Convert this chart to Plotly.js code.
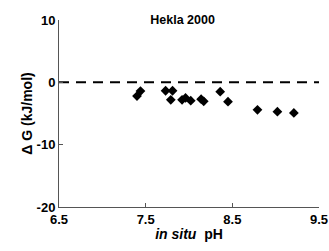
<!DOCTYPE html>
<html><head><meta charset="utf-8">
<script src="https://cdn.plot.ly/plotly-3.0.1.min.js"></script>
<style>html,body{margin:0;padding:0;background:#fff}</style>
</head><body>
<div id="chart" style="width:329px;height:251px"></div>
<script>
const ph = [7.40, 7.44, 7.73, 7.81, 7.79, 7.92, 7.96, 8.02, 8.14, 8.17, 8.36, 8.45, 8.79, 9.02, 9.21];
const dG = [-2.2, -1.4, -1.35, -1.35, -2.8, -2.8, -2.5, -2.95, -2.7, -3.05, -1.5, -3.1, -4.4, -4.7, -4.9];
const refX = [6.5, 9.5];
const refY = [0, 0];
const xTicks = [6.5, 7.5, 8.5, 9.5];
const yTicks = [-20, -10, 0, 10];

const traces = [
  {x: refX, y: refY, mode: 'lines', line: {color: '#000', width: 2, dash: '10px,7px'}, hoverinfo: 'skip'},
  {x: ph, y: dG, mode: 'markers', marker: {symbol: 'diamond', size: 7.5, color: '#000'}}
];
const layout = {
  width: 329, height: 251,
  margin: {l: 59, r: 10, t: 20, b: 44},
  showlegend: false,
  paper_bgcolor: '#fff', plot_bgcolor: '#fff',
  font: {family: 'Arial, Liberation Sans, sans-serif', color: '#000', size: 13},
  title: {text: '<b>Hekla 2000</b>', x: 0.555, xanchor: 'center', y: 0.92, yanchor: 'middle', font: {size: 12.5}},
  xaxis: {
    range: [6.5, 9.5], tickvals: xTicks, ticktext: xTicks.map(v => '<b>' + v.toFixed(1) + '</b>'),
    showgrid: false, zeroline: false, showline: true, linecolor: '#555', linewidth: 1,
    ticks: 'inside', ticklen: 4, tickcolor: '#555', tickfont: {size: 13},
    title: {text: '<b><i>in situ</i>  pH</b>', font: {size: 14}, standoff: 3}
  },
  yaxis: {
    range: [-20, 10], tickvals: yTicks, ticktext: yTicks.map(v => '<b>' + v + '</b>'),
    showgrid: false, zeroline: false, showline: true, linecolor: '#555', linewidth: 1,
    ticks: 'inside', ticklen: 4, tickcolor: '#555', tickfont: {size: 13},
    title: {text: '<b>Δ G (kJ/mol)</b>', font: {size: 14}, standoff: 0}
  }
};
Plotly.newPlot('chart', traces, layout, {displayModeBar: false, staticPlot: true});
</script>
</body></html>
